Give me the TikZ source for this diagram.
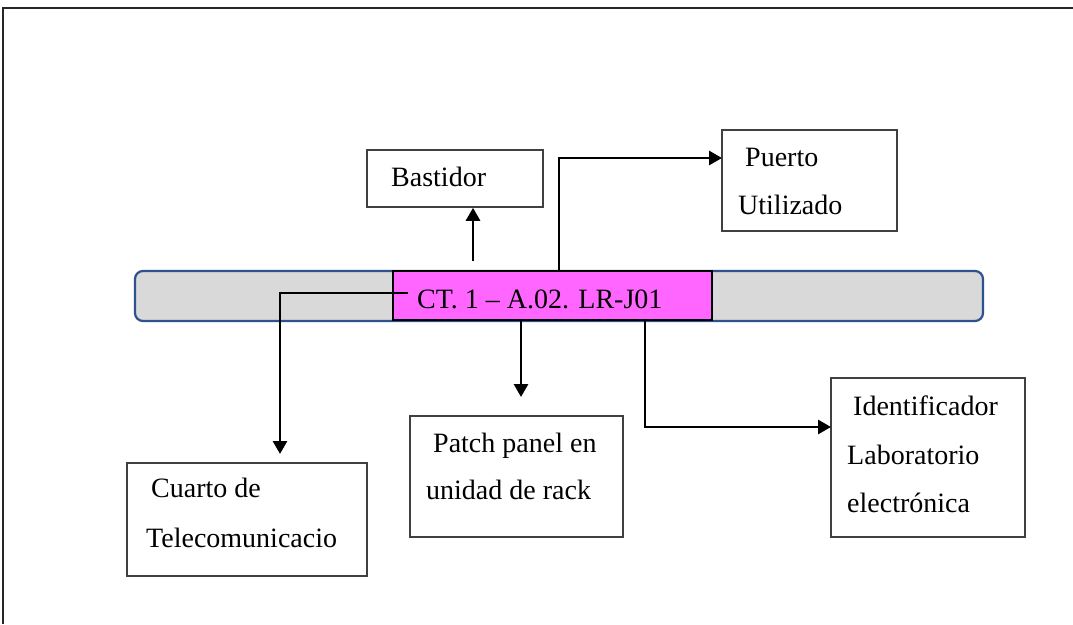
\documentclass[tikz,border=0pt]{standalone}
\usepackage{fontspec}
\setmainfont{Liberation Serif}
\usetikzlibrary{arrows.meta}
\definecolor{barblue}{RGB}{47,82,143}
\definecolor{bargray}{RGB}{217,217,217}
\definecolor{magent}{RGB}{255,102,255}
\definecolor{boxgray}{RGB}{64,64,64}
\tikzset{
  box/.style={draw=boxgray, line width=1.6pt, fill=white, rectangle, inner sep=0pt},
  lbl/.style={anchor=base west, inner sep=0pt, font=\fontsize{28}{30}\selectfont},
  arr/.style={line width=2.8pt, -{Triangle[length=13pt,width=14pt]}},
}
\begin{document}
\begin{tikzpicture}[x=1pt,y=-1pt]
\useasboundingbox (0,0) rectangle (1073,624);
\fill[white] (0,0) rectangle (1073,624);
% outer frame (partial)
\draw[line width=2.4pt, black!85] (1073,8) -- (3,8) -- (3,624);
% bar
\node[draw=barblue, fill=bargray, line width=2.2pt, rounded corners=8pt, minimum width=848pt, minimum height=50pt, inner sep=0pt] (bar) at (559,296) {};
\node[draw=black, fill=magent, line width=1.4pt, minimum width=319pt, minimum height=49pt, inner sep=0pt] (mag) at (552.5,295.5) {};
\node[lbl] (magt) at (417,308) {CT. 1 – A.02. LR-J01};
% boxes
\node[box, minimum width=176pt, minimum height=57pt] (bast) at (455,178.5) {};
\node[lbl] (bastt) at (391,186) {Bastidor};
\node[box, minimum width=175pt, minimum height=101pt] (puerto) at (809.5,180.5) {};
\node[lbl] (puerto1) at (745,166) {Puerto};
\node[lbl] (puerto2) at (738,214) {Utilizado};
\node[box, minimum width=240pt, minimum height=113pt] (cuarto) at (247,519.5) {};
\node[lbl] (cuarto1) at (151,497) {Cuarto de};
\node[lbl] (cuarto2) at (146,547) {Telecomunicacio};
\node[box, minimum width=213pt, minimum height=121pt] (patch) at (516.5,476.5) {};
\node[lbl] (patch1) at (433,452) {Patch panel en};
\node[lbl] (patch2) at (426,499) {unidad de rack};
\node[box, minimum width=194pt, minimum height=159pt] (ident) at (928,457.5) {};
\node[lbl] (ident1) at (853,415) {Identificador};
\node[lbl] (ident2) at (847,464) {Laboratorio};
\node[lbl] (ident3) at (847,512) {electrónica};
% connectors
\coordinate (bs) at (473,261);
\draw[arr] (bs) -- (bs |- bast.south);
\coordinate (ps) at (559,271);
\coordinate (pe) at (722,158);
\draw[arr] (ps) |- (pe);
\coordinate (cs) at (408,293);
\coordinate (ce) at (280,454);
\draw[arr] (cs) -| (ce);
\coordinate (ts) at (521,321);
\coordinate (te) at (521,397);
\draw[arr] (ts) -- (te);
\coordinate (is) at (645,321);
\coordinate (ie) at (831,427);
\draw[arr] (is) |- (ie);
\end{tikzpicture}
\end{document}
